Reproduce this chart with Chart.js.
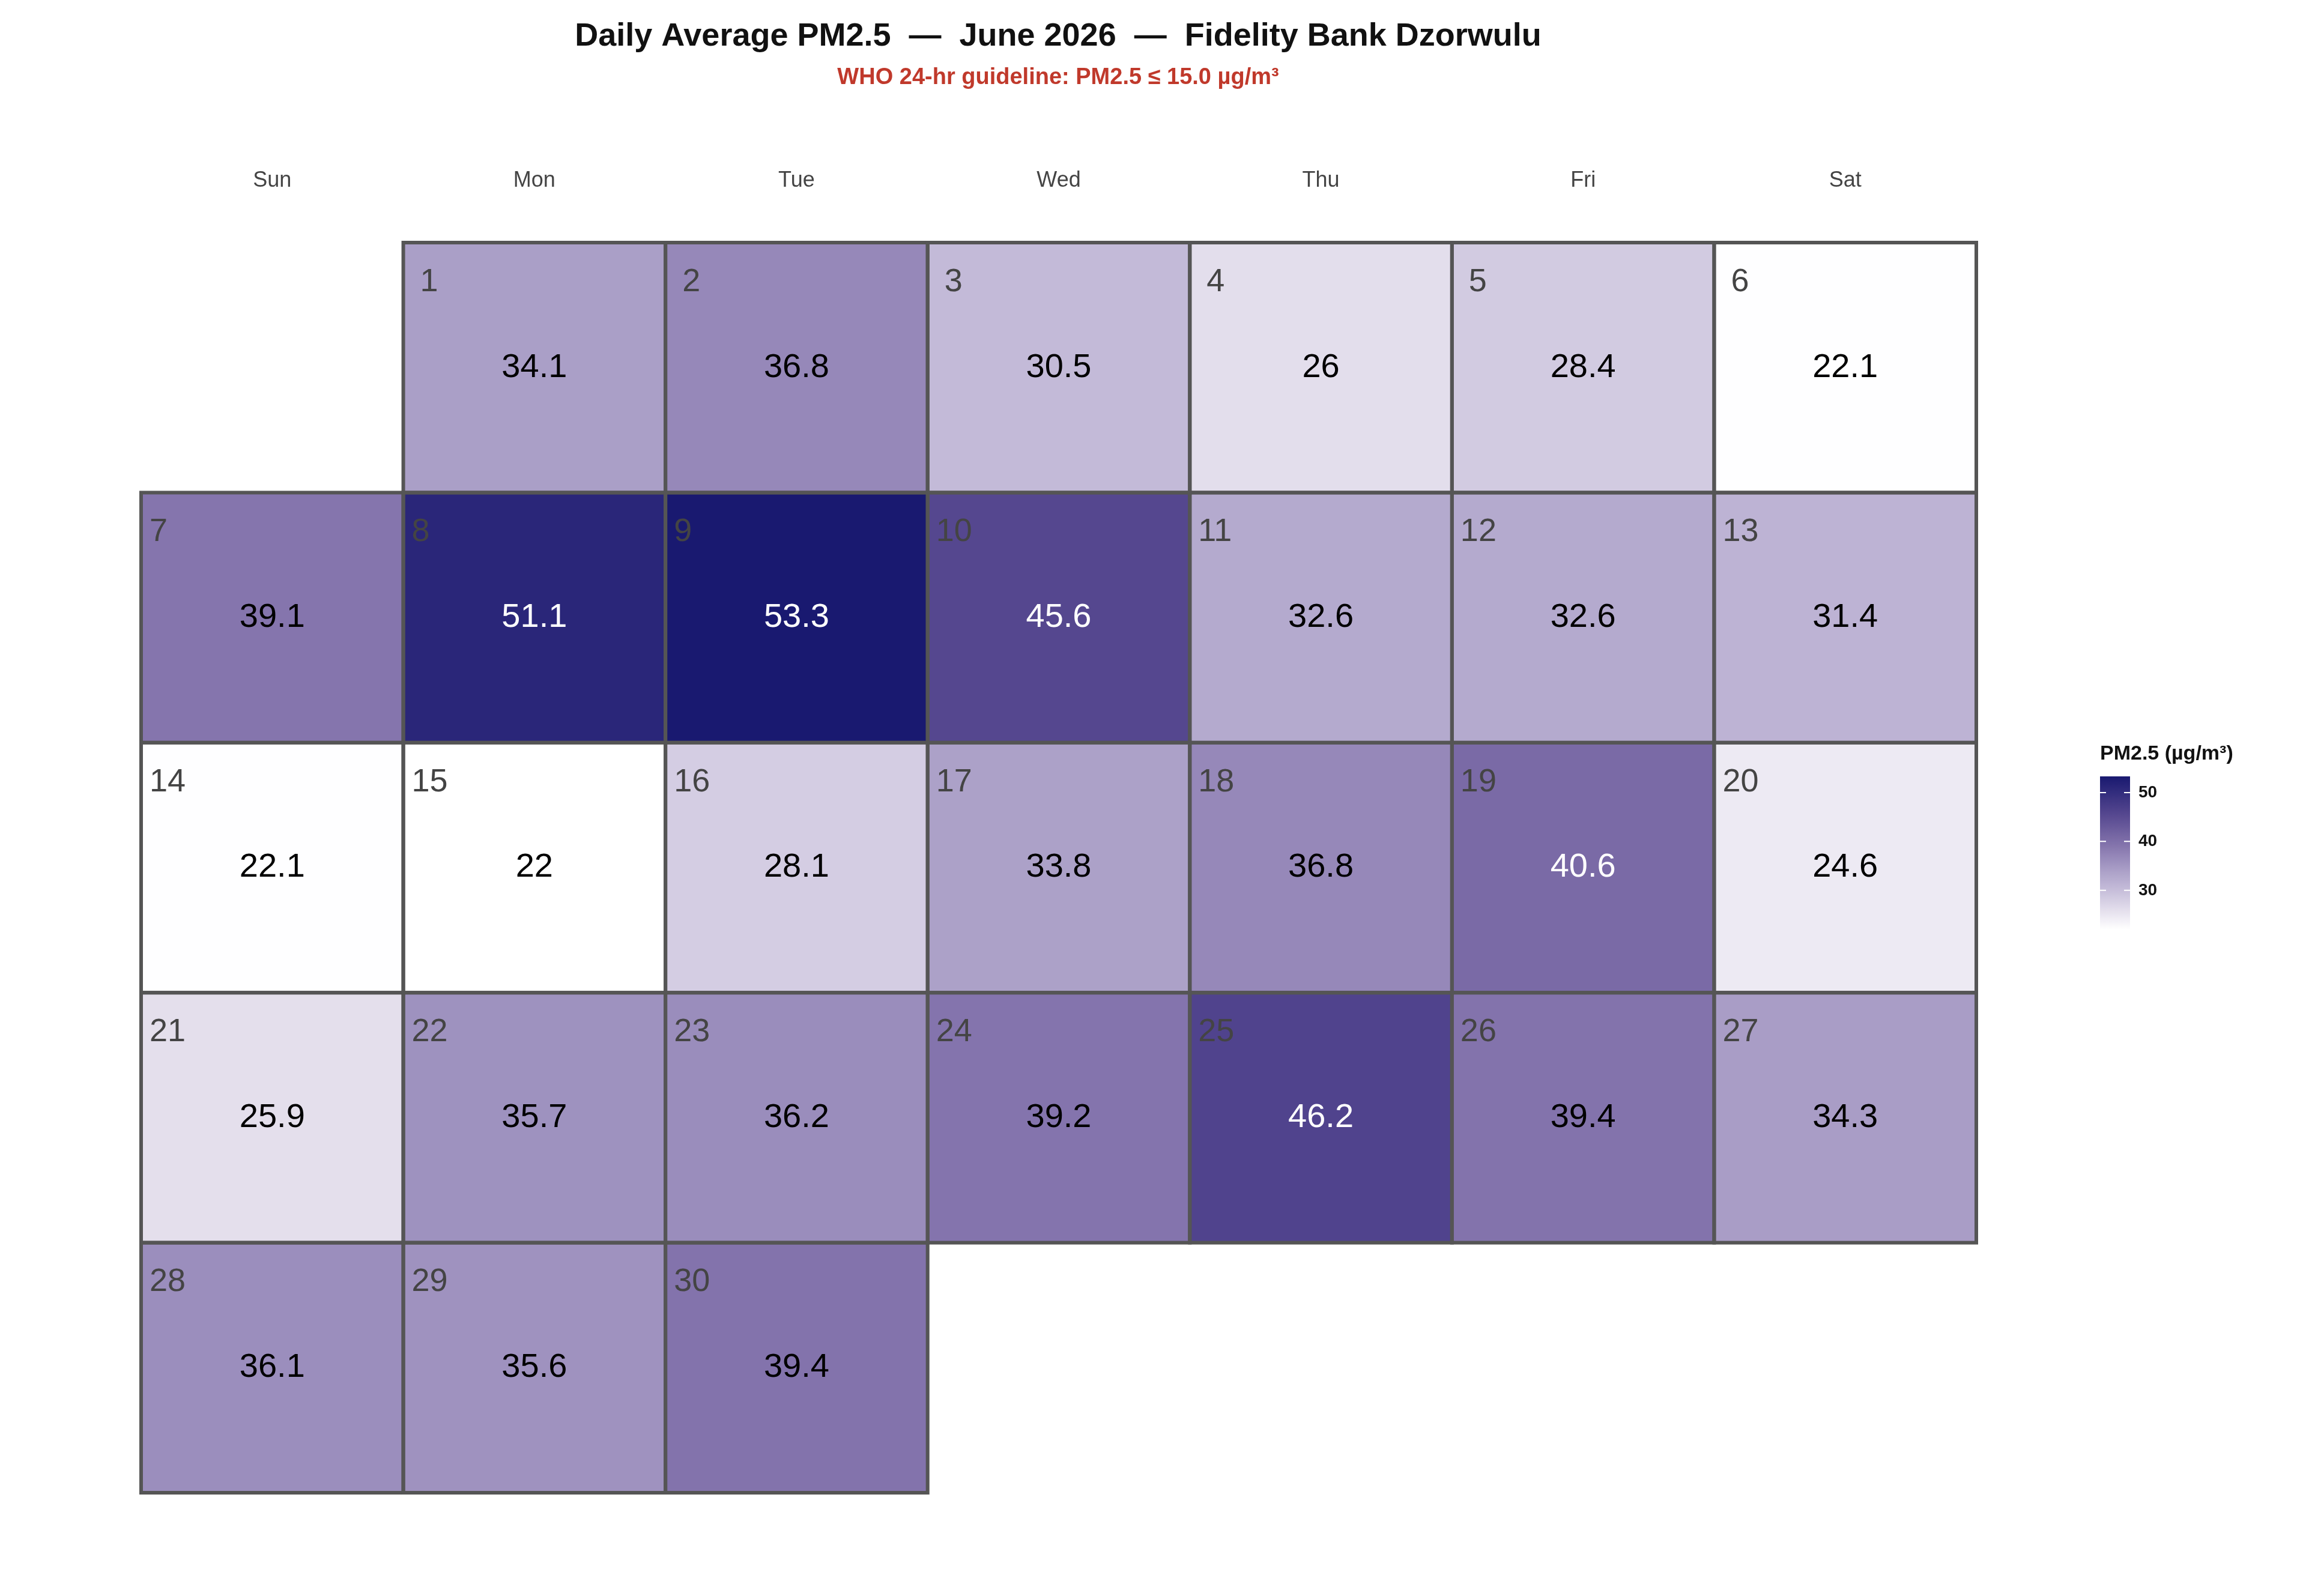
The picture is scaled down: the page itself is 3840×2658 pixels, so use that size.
<!DOCTYPE html>
<html><head><meta charset="utf-8">
<script src="https://cdn.jsdelivr.net/npm/chart.js@4"></script>
<style>body{margin:0;background:#fff}canvas{display:block}</style>
</head><body>
<canvas id="c" width="3840" height="2658"></canvas>
<script>
// June 2026, daily average PM2.5 (µg/m³), day 1 = Monday
const weekdays = ['Sun','Mon','Tue','Wed','Thu','Fri','Sat'];
const firstWeekday = 1;
const pm25 = [34.1,36.8,30.5,26,28.4,22.1,
  39.1,51.1,53.3,45.6,32.6,32.6,31.4,
  22.1,22,28.1,33.8,36.8,40.6,24.6,
  25.9,35.7,36.2,39.2,46.2,39.4,34.3,
  36.1,35.6,39.4];
const legendTicks = [30,40,50];

// colour scale
const stops = [[22,'#ffffff'],[26,'#e3deec'],[30.5,'#c3bad8'],[34.1,'#aa9fc7'],[39.1,'#8575ad'],[45.6,'#55478f'],[53.3,'#191970']];
const vMin = 22, vMax = 53.3;
function hex(h){return [1,3,5].map(i=>parseInt(h.substr(i,2),16));}
function colorFor(v){
  if(v<=stops[0][0]) return stops[0][1];
  for(let i=1;i<stops.length;i++){
    if(v<=stops[i][0]){
      const [a,ca]=stops[i-1],[b,cb]=stops[i];
      const t=(v-a)/(b-a),A=hex(ca),B=hex(cb);
      return 'rgb('+A.map((x,k)=>Math.round(x+(B[k]-x)*t)).join(',')+')';
    }
  }
  return stops[stops.length-1][1];
}

const cells = pm25.map((v,i)=>{
  const slot=i+firstWeekday;
  return {x:slot%7, y:Math.floor(slot/7), v:v, day:i+1};
});

const calendar = {
  id:'calendar',
  afterDatasetsDraw(chart){
    const {ctx,scales:{x,y}}=chart;
    ctx.save();
    // cells
    cells.forEach(c=>{
      const l=x.getPixelForValue(c.x), r=x.getPixelForValue(c.x+1);
      const t=y.getPixelForValue(c.y), b=y.getPixelForValue(c.y+1);
      ctx.fillStyle=colorFor(c.v);
      ctx.fillRect(l,t,r-l,b-t);
    });
    ctx.strokeStyle='#555555'; ctx.lineWidth=6;
    cells.forEach(c=>{
      const l=x.getPixelForValue(c.x), r=x.getPixelForValue(c.x+1);
      const t=y.getPixelForValue(c.y), b=y.getPixelForValue(c.y+1);
      ctx.strokeRect(l,t,r-l,b-t);
    });
    cells.forEach(c=>{
      const l=x.getPixelForValue(c.x), r=x.getPixelForValue(c.x+1);
      const t=y.getPixelForValue(c.y), b=y.getPixelForValue(c.y+1);
      ctx.font='54px "Liberation Sans", Arial, sans-serif';
      ctx.fillStyle='#444444'; ctx.textAlign='left'; ctx.textBaseline='middle';
      ctx.fillText(String(c.day), l+(c.y===0?28:14), t+66);
      ctx.font='56px "Liberation Sans", Arial, sans-serif';
      ctx.fillStyle=c.v>40?'#ffffff':'#000000'; ctx.textAlign='center';
      ctx.fillText(String(c.v),(l+r)/2,(t+b)/2);
    });
    // weekday header
    ctx.font='36px "Liberation Sans", Arial, sans-serif';
    ctx.fillStyle='#444444'; ctx.textAlign='center'; ctx.textBaseline='middle';
    weekdays.forEach((d,i)=>ctx.fillText(d,x.getPixelForValue(i+0.5),301));
    // titles
    ctx.font='bold 54px "Liberation Sans", Arial, sans-serif';
    ctx.fillStyle='#111111';
    ctx.fillText('Daily Average PM2.5  —  June 2026  —  Fidelity Bank Dzorwulu',1762,61);
    ctx.font='bold 38px "Liberation Sans", Arial, sans-serif';
    ctx.fillStyle='#c0392b';
    ctx.fillText('WHO 24-hr guideline: PM2.5 ≤ 15.0 µg/m³',1762,130);
    // legend
    const lx=3497,lw=50,ltop=1293,lbot=1548;
    const g=ctx.createLinearGradient(0,lbot,0,ltop);
    for(let i=0;i<=40;i++){const v=vMin+(vMax-vMin)*i/40;g.addColorStop(i/40,colorFor(v));}
    ctx.fillStyle=g; ctx.fillRect(lx,ltop,lw,lbot-ltop);
    ctx.font='bold 34px "Liberation Sans", Arial, sans-serif';
    ctx.fillStyle='#111111'; ctx.textAlign='left';
    ctx.fillText('PM2.5 (µg/m³)',lx,1256);
    ctx.font='bold 28px "Liberation Sans", Arial, sans-serif';
    legendTicks.forEach(v=>{
      const py=lbot-(v-vMin)/(vMax-vMin)*(lbot-ltop);
      ctx.strokeStyle='#ffffff'; ctx.lineWidth=2;
      ctx.beginPath();ctx.moveTo(lx,py);ctx.lineTo(lx+10,py);ctx.moveTo(lx+lw-10,py);ctx.lineTo(lx+lw,py);ctx.stroke();
      ctx.fillStyle='#111111';
      ctx.fillText(String(v),lx+lw+14,py);
    });
    ctx.restore();
  }
};

new Chart(document.getElementById('c'),{
  type:'scatter',
  data:{datasets:[{data:cells.map(c=>({x:c.x+0.5,y:c.y+0.5})),pointRadius:0}]},
  options:{
    responsive:false, devicePixelRatio:1, animation:false, events:[],
    layout:{padding:{left:235,right:549,top:404,bottom:172}},
    plugins:{legend:{display:false},tooltip:{enabled:false}},
    scales:{
      x:{type:'linear',min:0,max:7,display:false},
      y:{type:'linear',min:0,max:5,reverse:true,display:false}
    }
  },
  plugins:[calendar]
});
</script>
</body></html>
